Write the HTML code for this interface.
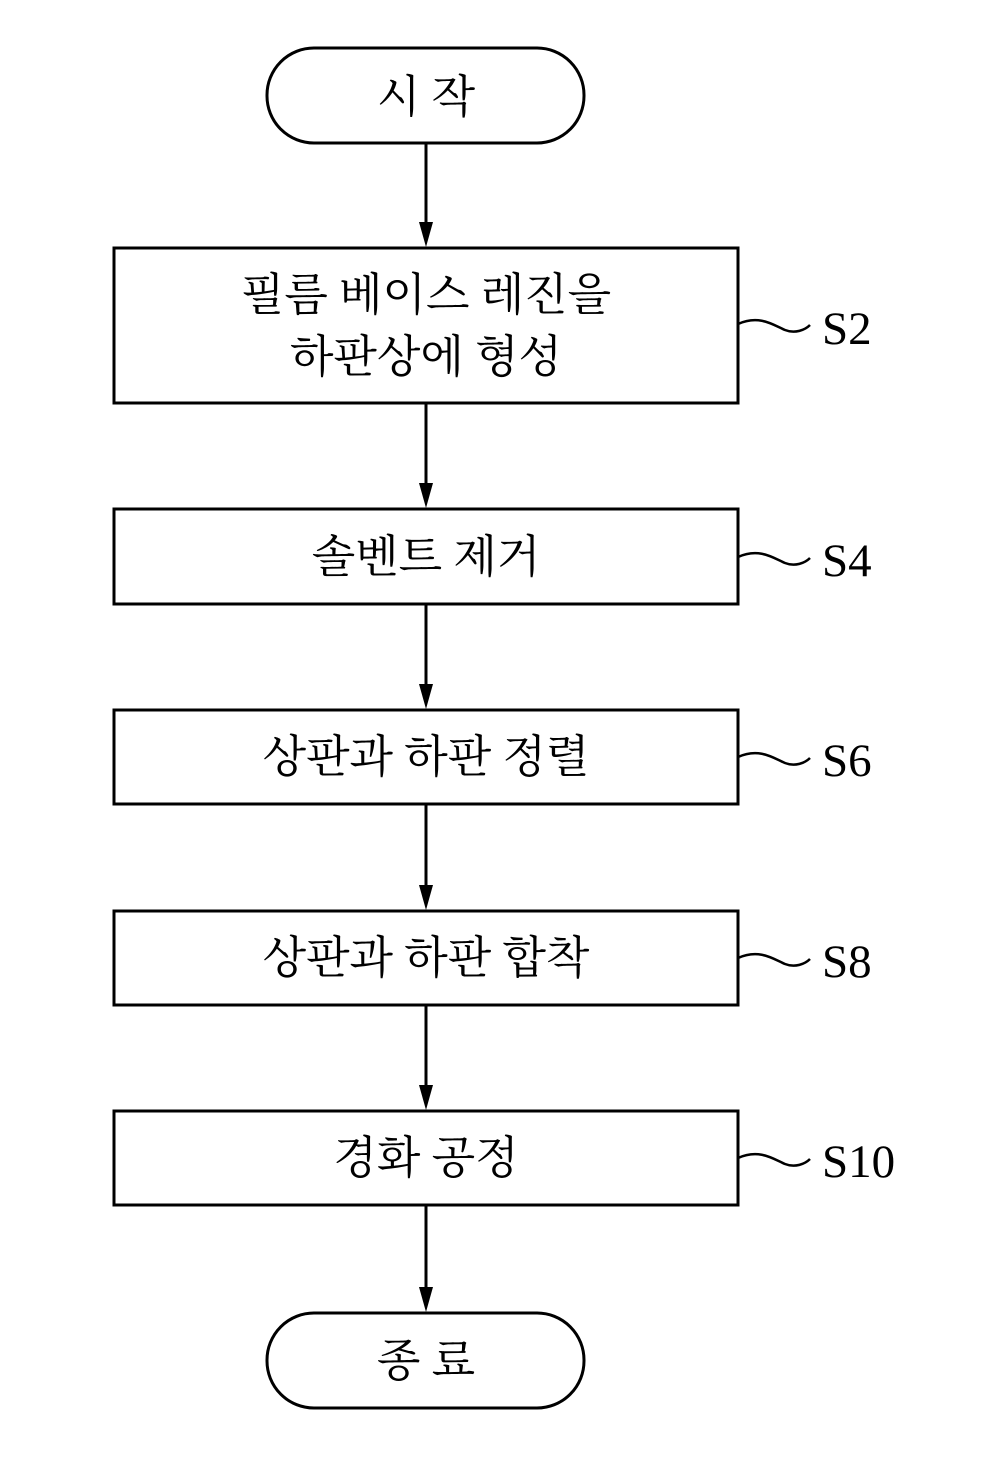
<!DOCTYPE html>
<html><head><meta charset="utf-8"><style>
body{margin:0;background:#fff}
svg{display:block}
.k{font-family:"Liberation Serif","Noto Serif CJK KR","Noto Serif CJK SC",serif;font-size:45px;fill:#000;text-anchor:middle}
.s{font-family:"Liberation Serif",serif;font-size:47px;fill:#000}
</style></head><body>
<svg width="991" height="1469" viewBox="0 0 991 1469" xmlns="http://www.w3.org/2000/svg">
<g stroke="#000" stroke-width="3" fill="none">
<rect x="267" y="48" width="317" height="95" rx="47"/>
<rect x="114" y="248" width="624" height="155"/>
<rect x="114" y="509" width="624" height="95"/>
<rect x="114" y="710" width="624" height="94"/>
<rect x="114" y="911" width="624" height="94"/>
<rect x="114" y="1111" width="624" height="94"/>
<rect x="267" y="1313" width="317" height="95" rx="47"/>
<line x1="426" y1="143" x2="426" y2="230"/>
<line x1="426" y1="403" x2="426" y2="490"/>
<line x1="426" y1="604" x2="426" y2="690"/>
<line x1="426" y1="804" x2="426" y2="890"/>
<line x1="426" y1="1005" x2="426" y2="1090"/>
<line x1="426" y1="1205" x2="426" y2="1292"/>
<g stroke-width="2.5">
<path d="M738,324 C760,314 775,326 785,330 C795,334 805,330 810,325"/>
<path d="M738,557 C760,547 775,559 785,563 C795,567 805,563 810,558"/>
<path d="M738,757 C760,747 775,759 785,763 C795,767 805,763 810,758"/>
<path d="M738,958 C760,948 775,960 785,964 C795,968 805,964 810,959"/>
<path d="M738,1158 C760,1148 775,1160 785,1164 C795,1168 805,1164 810,1159"/>
</g>
</g>
<g fill="#000">
<polygon points="419,222 433,222 426,247"/>
<polygon points="419,483 433,483 426,508"/>
<polygon points="419,684 433,684 426,709"/>
<polygon points="419,885 433,885 426,910"/>
<polygon points="419,1085 433,1085 426,1110"/>
<polygon points="419,1287 433,1287 426,1312"/>
</g>
<text class="k" x="426" y="112">시 작</text>
<text class="k" x="426" y="310">필름 베이스 레진을</text>
<text class="k" x="426" y="372">하판상에 형성</text>
<text class="k" x="426" y="572">솔벤트 제거</text>
<text class="k" x="426" y="772">상판과 하판 정렬</text>
<text class="k" x="426" y="973">상판과 하판 합착</text>
<text class="k" x="426" y="1173">경화 공정</text>
<text class="k" x="426" y="1376">종 료</text>
<text class="s" x="822" y="344">S2</text>
<text class="s" x="822" y="576">S4</text>
<text class="s" x="822" y="776">S6</text>
<text class="s" x="822" y="977">S8</text>
<text class="s" x="822" y="1177">S10</text>
</svg>
</body></html>
